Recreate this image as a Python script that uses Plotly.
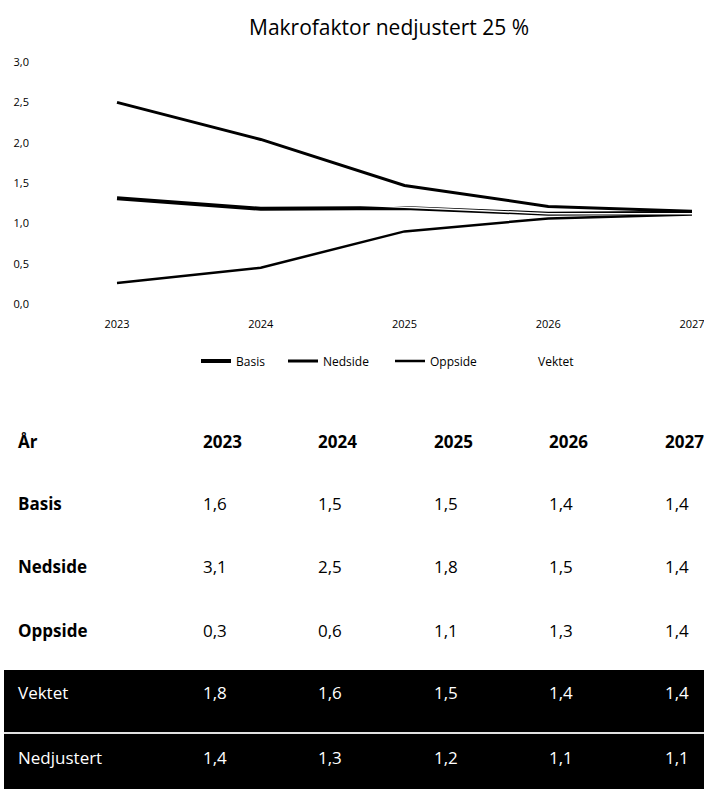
import plotly.graph_objects as go

# ---- data ----
years = [2023, 2024, 2025, 2026, 2027]
basis_chart = [1.31, 1.18, 1.19, 1.12, 1.13]
nedside_chart = [2.50, 2.04, 1.47, 1.21, 1.15]
oppside_chart = [0.26, 0.45, 0.90, 1.06, 1.11]
vektet_chart = [1.44, 1.28, 1.20, 1.12, 1.12]

table_header = ["År", "2023", "2024", "2025", "2026", "2027"]
basis_tbl = [1.6, 1.5, 1.5, 1.4, 1.4]
nedside_tbl = [3.1, 2.5, 1.8, 1.5, 1.4]
oppside_tbl = [0.3, 0.6, 1.1, 1.3, 1.4]
vektet_tbl = [1.8, 1.6, 1.5, 1.4, 1.4]
nedjustert_tbl = [1.4, 1.3, 1.2, 1.1, 1.1]

title = "Makrofaktor nedjustert 25 %"

W, H = 704, 789
FONT = "Open Sans"


def px(x):
    return x / W


def py(y):
    return 1 - y / H


series = [
    ("Basis", basis_chart, 4, "black", "legend", 206),
    ("Nedside", nedside_chart, 3, "black", "legend2", 293),
    ("Oppside", oppside_chart, 2.5, "black", "legend3", 400),
    ("Vektet", vektet_chart, 1.5, "white", "legend4", 508),
]

fig = go.Figure()
legend_layout = {}
for name, vals, lw, col, leg, lx in series:
    fig.add_trace(go.Scatter(x=years, y=vals, name=name, mode="lines",
                             line=dict(color=col, width=lw), legend=leg))
    legend_layout[leg] = dict(orientation="h", x=px(lx - 10), xanchor="left",
                              y=py(361), yanchor="middle", bgcolor="rgba(0,0,0,0)",
                              font=dict(size=12, family=FONT, color="black"))

# x axis: 2023 at px 117, 2027 at px 692, domain starting at px 30
ppy = (692 - 117) / 4
DOM_L = 30
x_left = 2023 - (117 - DOM_L) / ppy

fig.update_layout(
    width=W, height=H, autosize=False,
    margin=dict(l=0, r=0, t=0, b=0, autoexpand=False),
    paper_bgcolor="white", plot_bgcolor="white",
    separators=", ",
    font=dict(family=FONT, color="black"),
    showlegend=True,
    xaxis=dict(domain=[px(DOM_L), px(692)], range=[x_left, 2027], tickvals=years,
               ticktext=[str(y) for y in years], showgrid=False, zeroline=False,
               showline=False, ticks="outside", ticklen=10, tickcolor="rgba(0,0,0,0)",
               tickfont=dict(size=11, family=FONT), ticklabeloverflow="allow",
               automargin=False, fixedrange=True),
    yaxis=dict(domain=[py(304), py(62)], range=[0, 3], tickvals=[0, 0.5, 1, 1.5, 2, 2.5, 3],
               tickformat=".1f", showgrid=False, zeroline=False, showline=False,
               tickfont=dict(size=11, family=FONT), ticks="", automargin=False,
               fixedrange=True),
    **legend_layout,
)

annotations = [dict(text=title, x=px(389), y=py(27), xref="paper", yref="paper",
                    showarrow=False, xanchor="center", yanchor="middle",
                    font=dict(size=21, family=FONT, color="black"))]

shapes = [
    dict(type="rect", xref="paper", yref="paper", x0=px(4), x1=1, y0=py(789), y1=py(670),
         fillcolor="black", line=dict(width=0), layer="below"),
    dict(type="line", xref="paper", yref="paper", x0=px(4), x1=1, y0=py(733), y1=py(733),
         line=dict(color="#e0e0e0", width=2)),
]

label_x = 16
col_x = [201, 316, 432, 547, 663]
TFS = 17


def fmt(v):
    return f"{v:.1f}".replace(".", ",")


rows = [
    ("Basis", basis_tbl, 503, "black", True),
    ("Nedside", nedside_tbl, 566, "black", True),
    ("Oppside", oppside_tbl, 630, "black", True),
    ("Vektet", vektet_tbl, 692, "white", False),
    ("Nedjustert", nedjustert_tbl, 757, "white", False),
]

# header
for i, h in enumerate(table_header):
    x = label_x if i == 0 else col_x[i - 1]
    annotations.append(dict(text=f"<b>{h}</b>", x=px(x), y=py(441), xref="paper", yref="paper",
                            showarrow=False, xanchor="left", yanchor="middle",
                            font=dict(size=TFS, family=FONT, color="black")))

for label, vals, y, color, bold in rows:
    lab = f"<b>{label}</b>" if bold else label
    annotations.append(dict(text=lab, x=px(label_x), y=py(y), xref="paper", yref="paper",
                            showarrow=False, xanchor="left", yanchor="middle",
                            font=dict(size=TFS, family=FONT, color=color)))
    for cx, v in zip(col_x, vals):
        annotations.append(dict(text=fmt(v), x=px(cx), y=py(y), xref="paper", yref="paper",
                                showarrow=False, xanchor="left", yanchor="middle",
                                font=dict(size=TFS, family=FONT, color=color)))

fig.update_layout(annotations=annotations, shapes=shapes)
fig.write_html(
    "out.html",
    config={"displayModeBar": False, "responsive": False},
    post_script=(
        "document.documentElement.style.margin='0';"
        "document.documentElement.style.overflow='hidden';"
        "document.body.style.margin='0';"
        "document.body.style.overflow='hidden';"
    ),
)
